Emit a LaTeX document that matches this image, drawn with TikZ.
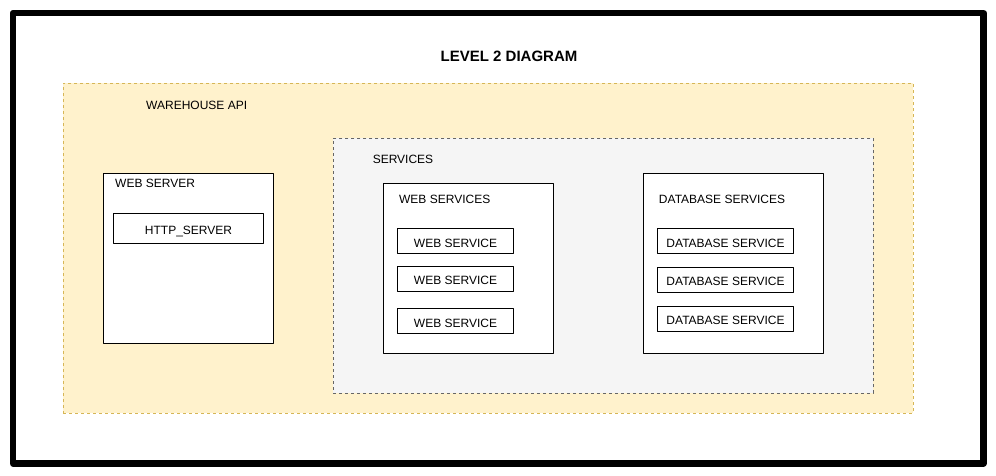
\documentclass[tikz,border=0pt]{standalone}
\usepackage{fontspec}
\setmainfont{Liberation Sans}
\definecolor{apifill}{HTML}{FFF2CC}
\definecolor{apiline}{HTML}{D6B656}
\definecolor{svcfill}{HTML}{F5F5F5}
\definecolor{svcline}{HTML}{666666}
\begin{document}
\begin{tikzpicture}[x=1pt,y=-1pt,line join=round,font=\fontsize{12}{14}\selectfont,
	frame/.style={draw=black,line width=6.5pt},
	group/.style={draw,dashed,dash pattern=on 3pt off 3pt,line width=0.8pt,inner sep=0pt,anchor=north west},
	box/.style={draw=black,fill=white,line width=1pt,inner sep=0pt,anchor=north west},
	item/.style={box,text height=12pt,text depth=0pt},
	lbl/.style={inner sep=0pt,text height=8.6pt,text depth=0pt}]
	\useasboundingbox (0,0) rectangle (996,476);
	\draw[frame] (13,13) rectangle (983.5,463.5);
	\node[font=\fontsize{15}{17}\selectfont\bfseries,lbl,text height=10.7pt] (title) at (509,56.5) {LEVEL 2 DIAGRAM};
	% warehouse api
	\node[group,draw=apiline,fill=apifill,minimum width=850pt,minimum height=330pt] (api) at (63,83) {};
	\node[lbl] (apilbl) at (196.7,105.3) {WAREHOUSE API};
	% web server
	\node[box,minimum width=170pt,minimum height=170pt] (srv) at (103,173) {};
	\node[lbl,anchor=west] (srvlbl) at (115,183.5) {WEB SERVER};
	\node[item,minimum width=150pt,minimum height=30pt] (http) at (113,213) {HTTP\_SERVER};
	% services
	\node[group,draw=svcline,fill=svcfill,minimum width=540pt,minimum height=255pt] (svc) at (333,138) {};
	\node[lbl] (svclbl) at (403,159.5) {SERVICES};
	\node[box,minimum width=170pt,minimum height=170pt] (web) at (383,183) {};
	\node[lbl] (weblbl) at (444.7,198.8) {WEB SERVICES};
	\foreach \y [count=\i] in {228,265.5,308}{
		\node[item,minimum width=116pt,minimum height=25pt] (ws\i) at (397,\y) {WEB SERVICE};
	}
	\node[box,minimum width=180pt,minimum height=180pt] (db) at (643,173) {};
	\node[lbl] (dblbl) at (722,198.8) {DATABASE SERVICES};
	\foreach \y [count=\i] in {228,266.5,305.5}{
		\node[item,minimum width=136pt,minimum height=25pt] (ds\i) at (657,\y) {DATABASE SERVICE};
	}
\end{tikzpicture}
\end{document}
